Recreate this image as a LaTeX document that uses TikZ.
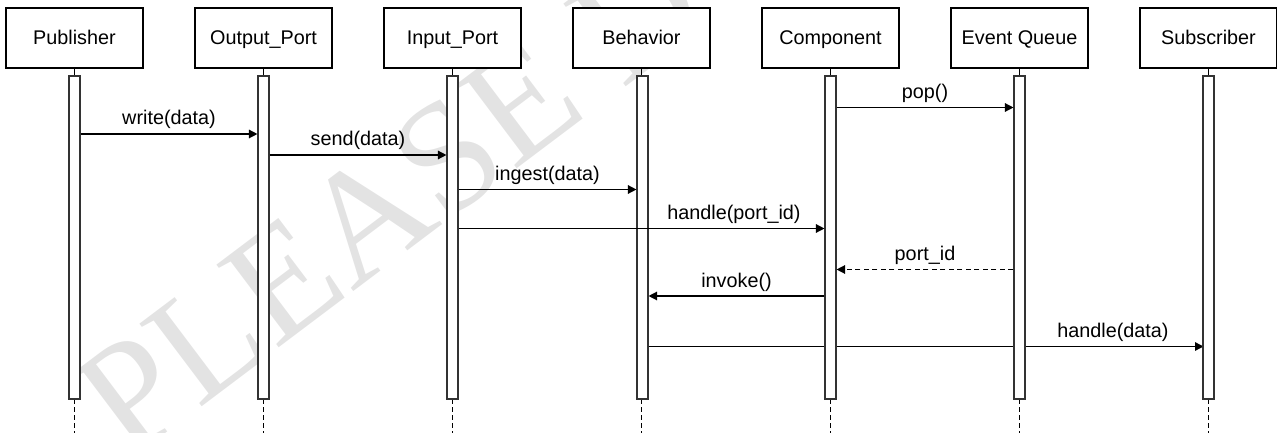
\documentclass[tikz,border=0pt]{standalone}
\usepackage{fontspec}
\setmainfont{Liberation Sans}
\newfontfamily\markfont{Liberation Serif}
\usetikzlibrary{arrows.meta}

\tikzset{
  actor/.style={draw=black, line width=1.3pt, fill=white, minimum width=137pt,
    minimum height=60pt, inner sep=0pt, text height=14pt, text depth=0pt,
    font=\fontsize{19.8}{22}\selectfont},
  actbar/.style={draw=black!80, line width=1.1pt, fill=white, minimum width=11pt,
    minimum height=323pt, inner sep=0pt},
  stub/.style={draw=black, line width=1.1pt},
  tail/.style={draw=black, line width=1.1pt, dash pattern=on 4.5pt off 3.5pt},
  msg/.style={draw=black, line width=1.3pt, -{Triangle[length=8.5pt,width=8.5pt]}},
  reply/.style={msg, dash pattern=on 5pt off 3.5pt},
  msglabel/.style={anchor=base, inner sep=0pt, font=\fontsize{19.8}{22}\selectfont},
  over/.style={msglabel, midway, yshift=9pt},
}

\begin{document}
\begin{tikzpicture}[x=1pt, y=-1pt]
  \useasboundingbox (0,0) rectangle (1277,433);
  \clip (0,0) rectangle (1277,433);

  % faint background stamp
  \node[text=black!11, font=\markfont\fontsize{158}{158}\selectfont,
        rotate=37, anchor=base west, inner sep=0pt] (stamp) at (128,462) {PLEASE DO};

  % participants
  \foreach \name/\txt [count=\i from 0] in
    {pub/Publisher, outp/Output\_Port, inp/Input\_Port, beh/Behavior,
     comp/Component, evq/Event Queue, sub/Subscriber} {
    \node[actor] (\name) at (74.5+189*\i, 38) {\txt};
    \coordinate (\name-top) at (74.5+189*\i, 76);
    \coordinate (\name-bot) at (74.5+189*\i, 399);
    \coordinate (\name-end) at (74.5+189*\i, 433);
    \draw[stub] (\name.south) -- (\name-top);
    \draw[tail] (\name-bot) -- (\name-end);
  }

  % long call that passes behind the later activation bars
  \node[actbar] (behbar) at (642.5,237.5) {};
  \draw[msg] (behbar.east |- 0,346.5) -- (1203.5,346.5) coordinate (subhit);

  % activation bars
  \foreach \name [count=\i from 0] in {pub, outp, inp, comp, evq, sub} {
    \pgfmathsetmacro{\xx}{\i<3 ? 74.5+189*\i : 74.5+189*(\i+1)}
    \node[actbar] (\name bar) at (\xx,237.5) {};
  }

  % messages
  \draw[msg] (pubbar.east |- 0,134) -- (outpbar.west |- 0,134)
    node[over] (l1) {write(data)};
  \draw[msg] (outpbar.east |- 0,155) -- (inpbar.west |- 0,155)
    node[over] (l2) {send(data)};
  \draw[msg] (compbar.east |- 0,107.5) -- (evqbar.west |- 0,107.5)
    node[over] (l3) {pop()};
  \draw[msg] (inpbar.east |- 0,189.5) -- (behbar.west |- 0,189.5)
    node[over] (l4) {ingest(data)};
  \draw[msg] (inpbar.east |- 0,228.5) -- (compbar.west |- 0,228.5);
  \node[msglabel] (l5) at (734,219.5) {handle(port\_id)};
  \draw[reply] (evqbar.west |- 0,269.5) -- (compbar.east |- 0,269.5)
    node[over] (l6) {port\_id};
  \draw[msg] (compbar.west |- 0,296) -- (behbar.east |- 0,296)
    node[over] (l7) {invoke()};
  \node[msglabel] (l8) at (1113,337.5) {handle(data)};
\end{tikzpicture}
\end{document}
